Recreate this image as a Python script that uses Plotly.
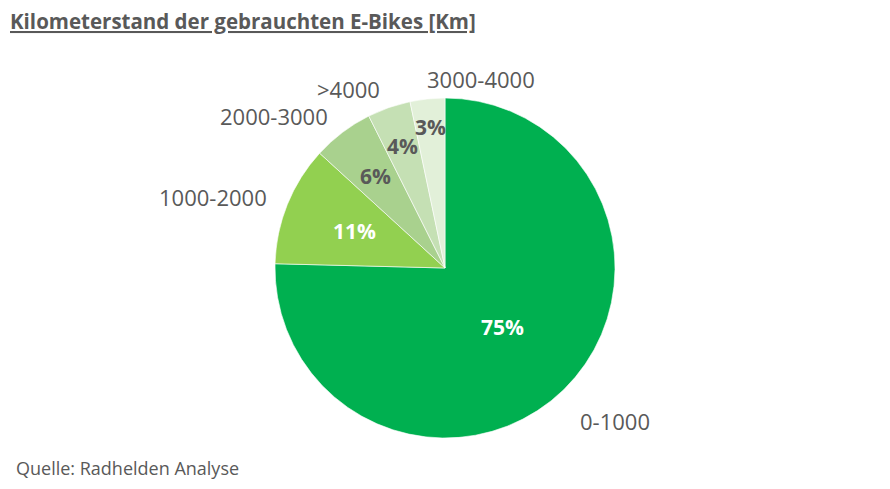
import math
import plotly.graph_objects as go

# Kilometerstand gebrauchter E-Bikes, Anteile in %
kategorien = ['0-1000', '1000-2000', '2000-3000', '>4000', '3000-4000']
anteile = [75.4, 11.4, 5.8, 4.1, 3.3]
farben = ['#00B050', '#92D050', '#A9D18E', '#C5E0B4', '#E2F0D9']
textfarben = ['white', 'white', '#595959', '#595959', '#595959']

grau = '#595959'
schrift = 'Open Sans'
W, H = 890, 489

# Tortenposition in Pixeln
cx, cy, r = 437, 260, 170
dom_x = [(cx - r) / W, (cx + r) / W]
dom_y = [1 - (cy + r) / H, 1 - (cy - r) / H]

fig = go.Figure(go.Pie(
    labels=kategorien,
    values=anteile,
    sort=False,
    direction='clockwise',
    rotation=0,
    marker=dict(colors=farben, line=dict(color='white', width=0.6)),
    textinfo='none',
    hoverinfo='label+percent',
    domain=dict(x=dom_x, y=dom_y),
    showlegend=False,
))


def px(x, y):
    return x / W, 1 - y / H


# Beschriftungen aus den Anteilen ableiten (Winkel ab 12 Uhr im Uhrzeigersinn)
summe = sum(anteile)
kum = 0
for kat, wert, tf in zip(kategorien, anteile, textfarben):
    anteil = wert / summe
    mitte = (kum + anteil / 2) * 2 * math.pi
    kum += anteil
    s, c = math.sin(mitte), math.cos(mitte)

    # Prozentwert im Segment
    rp = r * (0.47 + 0.012 / anteil)
    x, y = px(cx + rp * s, cy - rp * c)
    fig.add_annotation(
        text=f'<b>{round(anteil * 100)}%</b>', x=x, y=y,
        xanchor='center', yanchor='middle',
        xref='paper', yref='paper', showarrow=False,
        font=dict(size=21, color=tf, family=schrift),
    )

    # Kategoriename außen
    ra = r + 20
    x, y = px(cx + ra * s, cy - ra * c)
    xa = 'left' if s >= -0.15 else 'right'
    ya = 'top' if c < -0.4 else 'middle'
    fig.add_annotation(
        text=kat, x=x, y=y, xanchor=xa, yanchor=ya,
        xref='paper', yref='paper', showarrow=False,
        font=dict(size=22, color=grau, family=schrift),
    )

fig.add_annotation(
    text='<b><u>Kilometerstand der gebrauchten E-Bikes [Km]</u></b>',
    xref='paper', yref='paper', x=0, y=1 - 13 / H,
    xanchor='left', yanchor='middle', showarrow=False,
    font=dict(size=20.5, color=grau, family=schrift),
)
fig.add_annotation(
    text='Quelle: Radhelden Analyse',
    xref='paper', yref='paper', x=6 / W, y=1 - 460 / H,
    xanchor='left', yanchor='middle', showarrow=False,
    font=dict(size=18, color=grau, family=schrift),
)

fig.update_layout(
    width=W, height=H,
    margin=dict(l=0, r=0, t=0, b=0),
    paper_bgcolor='white',
    plot_bgcolor='white',
)

fig.write_html('out.html')
